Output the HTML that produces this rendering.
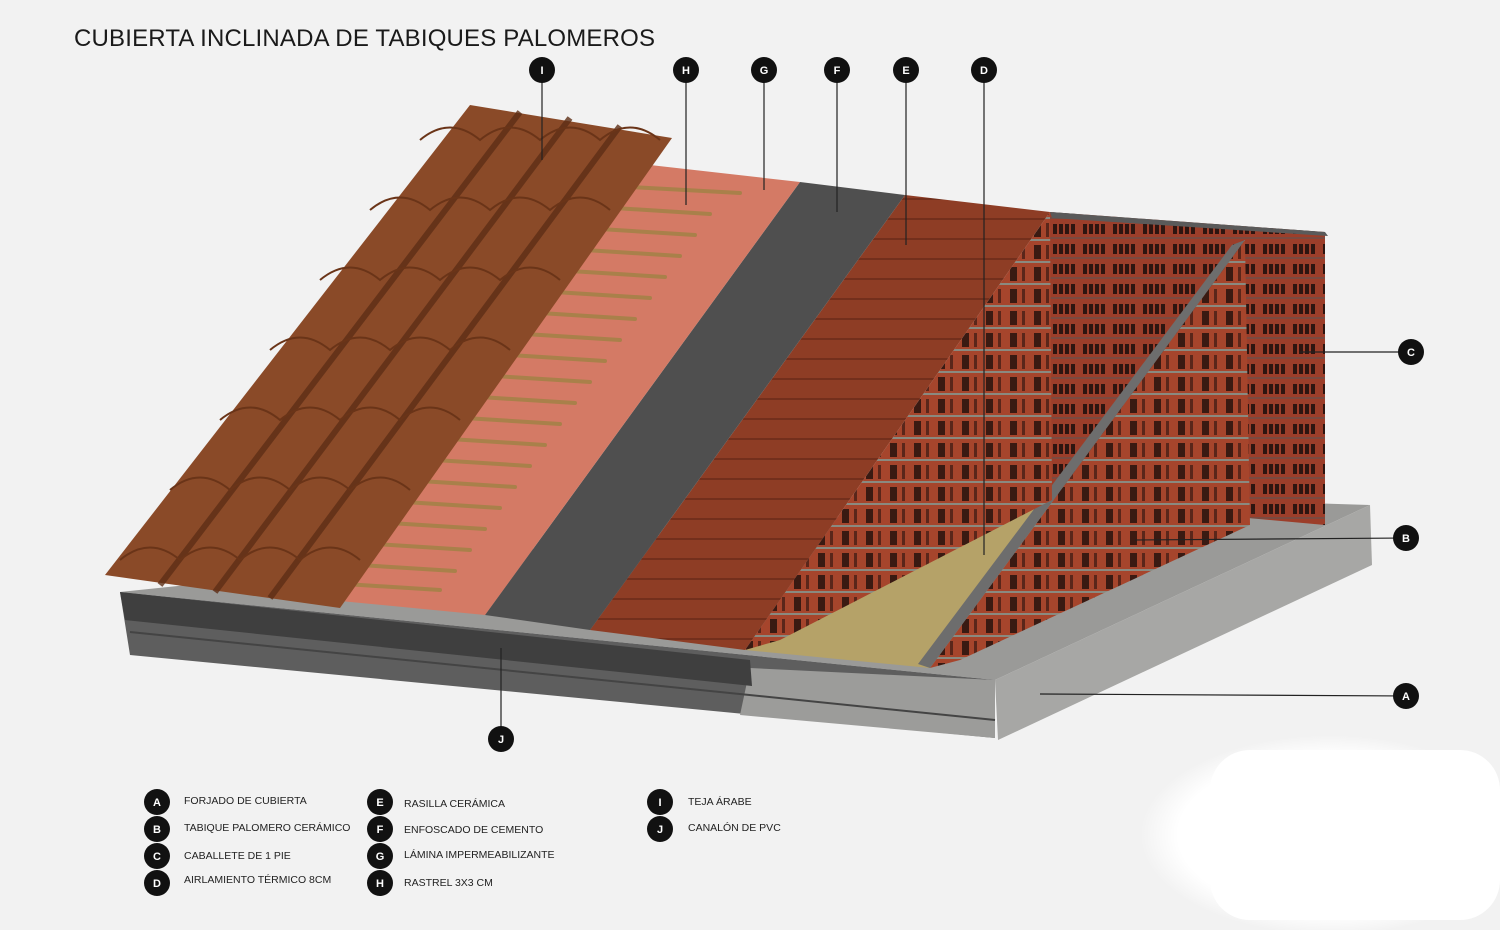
<!DOCTYPE html>
<html><head><meta charset="utf-8"><style>
html,body{margin:0;padding:0;background:#f2f2f2;}
body{width:1500px;height:930px;overflow:hidden;position:relative;font-family:"Liberation Sans",sans-serif;}
svg{position:absolute;left:0;top:0;}
</style></head><body>
<svg width="1500" height="930" viewBox="0 0 1500 930" xmlns="http://www.w3.org/2000/svg">
<defs>
<pattern id="brick" width="24" height="22" patternUnits="userSpaceOnUse">
<rect width="24" height="22" fill="#a6452c"/>
<rect x="2" y="3" width="7" height="14" fill="#3a1a12"/>
<rect x="14" y="3" width="3" height="14" fill="#5a261a"/>
<line x1="0" y1="20" x2="24" y2="20" stroke="#8a8a80" stroke-width="2"/>
</pattern>
<pattern id="backbrick" width="30" height="20" patternUnits="userSpaceOnUse">
<rect width="30" height="20" fill="#9c3e2a"/>
<rect x="3" y="4" width="4" height="10" fill="#2e1510"/>
<rect x="9" y="4" width="4" height="10" fill="#2e1510"/>
<rect x="15" y="4" width="4" height="10" fill="#2e1510"/>
<rect x="21" y="4" width="4" height="10" fill="#2e1510"/>
<line x1="0" y1="18" x2="30" y2="18" stroke="#7a4a40" stroke-width="2"/>
</pattern>
<pattern id="rasilla" width="40" height="20" patternUnits="userSpaceOnUse">
<rect width="40" height="20" fill="#8e3d25"/>
<line x1="0" y1="19" x2="40" y2="19" stroke="#6a2a18" stroke-width="1.5"/>
</pattern>
<radialGradient id="wb" cx="0.5" cy="0.5" r="0.5"><stop offset="0" stop-color="#fff"/><stop offset="0.8" stop-color="#fff"/><stop offset="1" stop-color="#fff" stop-opacity="0"/></radialGradient>
</defs>

<ellipse cx="1330" cy="835" rx="190" ry="100" fill="url(#wb)"/>
<rect x="1210" y="750" width="290" height="170" fill="#fff" rx="40"/>

<!-- slab -->
<polygon points="120,592 995,680 1370,505 1052,495" fill="#9a9a98"/>
<polygon points="120,592 995,680 995,738 130,655" fill="#5e5e5e"/>
<polygon points="750,668 995,680 995,738 740,715" fill="#9c9c9a"/>
<polygon points="995,680 1370,505 1372,565 998,740" fill="#a7a7a5"/>
<polygon points="120,592 750,660 752,686 125,620" fill="#3f3f3f"/>
<line x1="130" y1="632" x2="995" y2="720" stroke="#444" stroke-width="2"/>

<polygon points="745,650 930,668 1045,500 1000,490" fill="#b5a268"/>

<polygon points="1050,212 1325,232 1325,525 1050,500" fill="url(#backbrick)"/>
<polygon points="1050,212 1325,232 1328,236 1052,218" fill="#5a5a5a"/>

<polygon points="930,668 1245,240 1250,525 960,660" fill="url(#brick)"/>
<polygon points="930,668 1245,240 1232,245 918,664" fill="#6d6d6d"/>

<polygon points="745,650 1050,212 1052,500 780,640" fill="url(#brick)"/>

<polygon points="590,630 745,650 1050,212 905,195" fill="url(#rasilla)"/>
<polygon points="485,615 590,630 905,195 800,182" fill="#4f4f4f"/>
<polygon points="330,600 485,615 800,182 650,165" fill="#d47a65"/>
<g stroke="#a9804a" stroke-width="4" stroke-linecap="round">
<line x1="345" y1="584" x2="440" y2="590"/>
<line x1="360" y1="565" x2="455" y2="571"/>
<line x1="375" y1="544" x2="470" y2="550"/>
<line x1="390" y1="523" x2="485" y2="529"/>
<line x1="405" y1="502" x2="500" y2="508"/>
<line x1="420" y1="481" x2="515" y2="487"/>
<line x1="435" y1="460" x2="530" y2="466"/>
<line x1="450" y1="439" x2="545" y2="445"/>
<line x1="465" y1="418" x2="560" y2="424"/>
<line x1="480" y1="397" x2="575" y2="403"/>
<line x1="495" y1="376" x2="590" y2="382"/>
<line x1="510" y1="355" x2="605" y2="361"/>
<line x1="525" y1="334" x2="620" y2="340"/>
<line x1="540" y1="313" x2="635" y2="319"/>
<line x1="555" y1="292" x2="650" y2="298"/>
<line x1="570" y1="271" x2="665" y2="277"/>
<line x1="585" y1="250" x2="680" y2="256"/>
<line x1="600" y1="229" x2="695" y2="235"/>
<line x1="615" y1="208" x2="710" y2="214"/>
<line x1="630" y1="187" x2="740" y2="193"/>
</g>

<polygon points="105,575 340,608 672,138 470,105" fill="#8a4a28"/>
<g stroke="#5e2e16" stroke-width="6" fill="none" opacity="0.8">
<line x1="160" y1="585" x2="520" y2="112"/>
<line x1="215" y1="592" x2="570" y2="118"/>
<line x1="270" y1="598" x2="620" y2="126"/>
</g>
<g stroke="#6a3418" stroke-width="2" fill="none">
<path d="M120,560 q30,-25 60,0 q30,-25 60,0 q30,-25 60,0 q30,-25 60,0"/>
<path d="M170,490 q30,-25 60,0 q30,-25 60,0 q30,-25 60,0 q30,-25 60,0"/>
<path d="M220,420 q30,-25 60,0 q30,-25 60,0 q30,-25 60,0 q30,-25 60,0"/>
<path d="M270,350 q30,-25 60,0 q30,-25 60,0 q30,-25 60,0 q30,-25 60,0"/>
<path d="M320,280 q30,-25 60,0 q30,-25 60,0 q30,-25 60,0 q30,-25 60,0"/>
<path d="M370,210 q30,-25 60,0 q30,-25 60,0 q30,-25 60,0 q30,-25 60,0"/>
<path d="M420,140 q30,-25 60,0 q30,-25 60,0 q30,-25 60,0 q30,-25 60,0"/>
</g>

<g stroke="#222" stroke-width="1.2">
<line x1="542" y1="70" x2="542" y2="160"/>
<line x1="686" y1="70" x2="686" y2="205"/>
<line x1="764" y1="70" x2="764" y2="190"/>
<line x1="837" y1="70" x2="837" y2="212"/>
<line x1="906" y1="70" x2="906" y2="245"/>
<line x1="984" y1="70" x2="984" y2="555"/>
<line x1="1300" y1="352" x2="1411" y2="352"/>
<line x1="1135" y1="540" x2="1406" y2="538"/>
<line x1="1040" y1="694" x2="1406" y2="696"/>
<line x1="501" y1="648" x2="501" y2="739"/>
</g>
<g font-family="Liberation Sans, sans-serif" font-size="11" font-weight="bold" fill="#fff" text-anchor="middle">
<circle cx="542" cy="70" r="13" fill="#111"/><text x="542" y="74">I</text>
<circle cx="686" cy="70" r="13" fill="#111"/><text x="686" y="74">H</text>
<circle cx="764" cy="70" r="13" fill="#111"/><text x="764" y="74">G</text>
<circle cx="837" cy="70" r="13" fill="#111"/><text x="837" y="74">F</text>
<circle cx="906" cy="70" r="13" fill="#111"/><text x="906" y="74">E</text>
<circle cx="984" cy="70" r="13" fill="#111"/><text x="984" y="74">D</text>
<circle cx="1411" cy="352" r="13" fill="#111"/><text x="1411" y="356">C</text>
<circle cx="1406" cy="538" r="13" fill="#111"/><text x="1406" y="542">B</text>
<circle cx="1406" cy="696" r="13" fill="#111"/><text x="1406" y="700">A</text>
<circle cx="501" cy="739" r="13" fill="#111"/><text x="501" y="743">J</text>
<circle cx="157" cy="802" r="13" fill="#111"/><text x="157" y="806">A</text>
<circle cx="157" cy="829" r="13" fill="#111"/><text x="157" y="833">B</text>
<circle cx="157" cy="856" r="13" fill="#111"/><text x="157" y="860">C</text>
<circle cx="157" cy="883" r="13" fill="#111"/><text x="157" y="887">D</text>
<circle cx="380" cy="802" r="13" fill="#111"/><text x="380" y="806">E</text>
<circle cx="380" cy="829" r="13" fill="#111"/><text x="380" y="833">F</text>
<circle cx="380" cy="856" r="13" fill="#111"/><text x="380" y="860">G</text>
<circle cx="380" cy="883" r="13" fill="#111"/><text x="380" y="887">H</text>
<circle cx="660" cy="802" r="13" fill="#111"/><text x="660" y="806">I</text>
<circle cx="660" cy="829" r="13" fill="#111"/><text x="660" y="833">J</text>
</g>
<g font-family="Liberation Sans, sans-serif" font-size="10.5" fill="#222">
<text x="184" y="804">FORJADO DE CUBIERTA</text>
<text x="184" y="831">TABIQUE PALOMERO CERÁMICO</text>
<text x="184" y="859">CABALLETE DE 1 PIE</text>
<text x="184" y="883">AIRLAMIENTO TÉRMICO 8CM</text>
<text x="404" y="807">RASILLA CERÁMICA</text>
<text x="404" y="833">ENFOSCADO DE CEMENTO</text>
<text x="404" y="858">LÁMINA IMPERMEABILIZANTE</text>
<text x="404" y="886">RASTREL 3X3 CM</text>
<text x="688" y="805">TEJA ÁRABE</text>
<text x="688" y="831">CANALÓN DE PVC</text>
</g>
<text x="74" y="46" font-family="Liberation Sans, sans-serif" font-size="24" fill="#1a1a1a" textLength="581">CUBIERTA INCLINADA DE TABIQUES PALOMEROS</text>
</svg>
</body></html>
